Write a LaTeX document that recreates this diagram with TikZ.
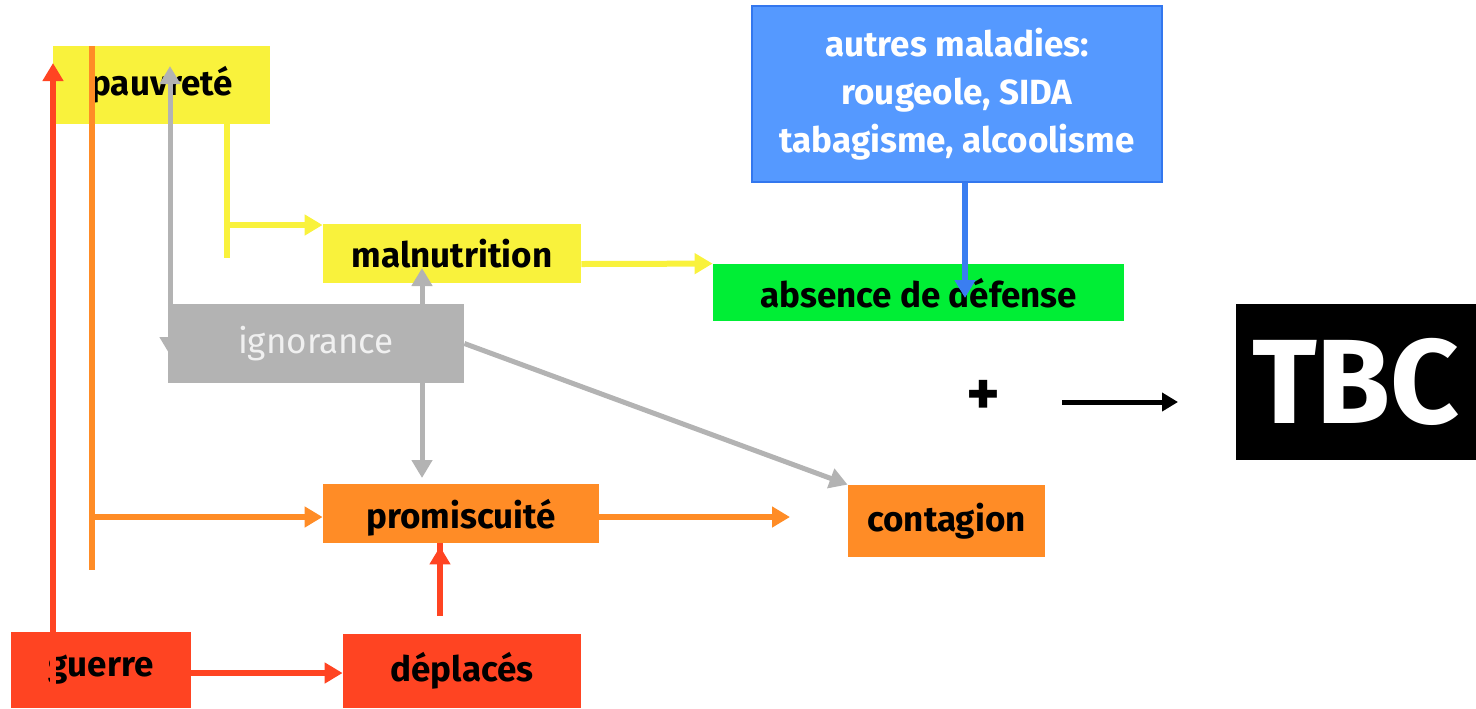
\documentclass[tikz,border=0pt]{standalone}
\usepackage{fontspec}
\setmainfont{Fira Sans}
\usepackage{tikz}
\usetikzlibrary{calc,arrows.meta}
\definecolor{pale_yellow}{HTML}{F9F23C}
\definecolor{soft_gray}{HTML}{B3B3B3}
\definecolor{bright_green}{HTML}{00EE35}
\definecolor{sky_blue}{HTML}{5599FF}
\definecolor{deep_blue}{HTML}{3377EE}
\definecolor{warm_orange}{HTML}{FF8C26}
\definecolor{fire_red}{HTML}{FF4422}

\begin{document}
\begin{tikzpicture}[x=0.5pt,y=-0.5pt,>={Triangle[length=9pt,width=10pt]},
      box/.style={rectangle,inner sep=0pt,font=\fontsize{17.5}{20}\selectfont\bfseries},
      link/.style={line width=3pt}]
              \useasboundingbox (0,0) rectangle (1476,708);
              % boxes
              \node[box,fill=pale_yellow,minimum width=108.5pt,minimum height=39pt] (pauv) at (161.5,85) {pauvreté};
              \node[box,fill=pale_yellow,minimum width=129pt,minimum height=29.5pt,text depth=-2pt] (maln) at (452,253.5) {malnutrition};
              \node[box,fill=bright_green,minimum width=205.5pt,minimum height=28.5pt,text depth=-2pt] (abs) at (918.5,292.5) {absence de défense};
              \node[box,fill=sky_blue,draw=deep_blue,line width=1pt,minimum width=205pt,minimum height=88pt,text=white,align=center,font=\fontsize{17.5}{24}\selectfont\bfseries] (aut) at (957,94) {autres maladies:\\rougeole, SIDA\\tabagisme, alcoolisme};
              \node[box,fill=warm_orange,minimum width=138pt,minimum height=29.5pt,text depth=-1pt] (prom) at (461,513.5) {promiscuité};
              \node[box,fill=warm_orange,minimum width=98.5pt,minimum height=36pt] (cont) at (946.5,521) {contagion};
              \node[box,fill=fire_red,minimum width=90pt,minimum height=38pt] (guer) at (101,670) {guerre};
              \node[box,fill=fire_red,minimum width=119pt,minimum height=37pt] (depl) at (462,671) {déplacés};
              \node[box,fill=black,text=white,minimum width=120pt,minimum height=78pt,font=\fontsize{60}{62}\selectfont\bfseries] (tbc) at (1356,382) {TBC};
              \node[font=\fontsize{32}{32}\selectfont\bfseries] (plus) at (983,398) {+};
              % free ends
              \coordinate (G1) at (53,690);
              \coordinate (P0) at (53,63);
              \coordinate (P1) at (170,66);
              \coordinate (I1) at (170,355);
              \coordinate (M1) at (422,268);
              \coordinate (R1) at (422,478);
              \coordinate (C1) at (790,517);
              \coordinate (A1) at (1062,402);
              \coordinate (A2) at (1178,402);
              % links
              \draw[->,link,fire_red] (G1) -- (P0);
              \draw[link,warm_orange] (92,46) -- (92,570);
              \draw[->,link,warm_orange] (92,517) -- (prom.west |- 0,517);
              \draw[link,pale_yellow] (pauv.south -| 227,0) -- (227,258);
              \draw[->,link,pale_yellow] (227,225) -- (maln.west |- 0,225);
              \draw[->,link,pale_yellow] (maln.east |- 0,264) -- (abs.north west);
              \draw[->,link,deep_blue!80!sky_blue] (aut.south -| 965,0) -- (965,298);
              \draw[<->,line width=2.5pt,soft_gray] (P1) -- (I1);
              \draw[<->,line width=2.5pt,soft_gray] (M1) -- (R1);
              \draw[->,link,warm_orange] (prom.east |- C1) -- (C1);
              \draw[->,link,fire_red] (depl.north -| 440,0) ++(0,-18) -- (prom.south -| 440,0) ++(0,3);
              \draw[->,link,fire_red] (guer.east |- 0,673) -- (depl.west |- 0,673);
              \draw[->,line width=2.5pt,>={Triangle[length=8pt,width=9pt]}] (A1) -- (A2);
              % on top
              \node[box,fill=soft_gray,minimum width=148pt,minimum height=39.5pt,text=white!94!black,font=\fontsize{17.5}{20}\selectfont] (ign) at (316,343.5) {ignorance};
              \draw[->,line width=2.5pt,soft_gray] (ign.east) -- (cont.north west);
          \end{tikzpicture}
\end{document}
